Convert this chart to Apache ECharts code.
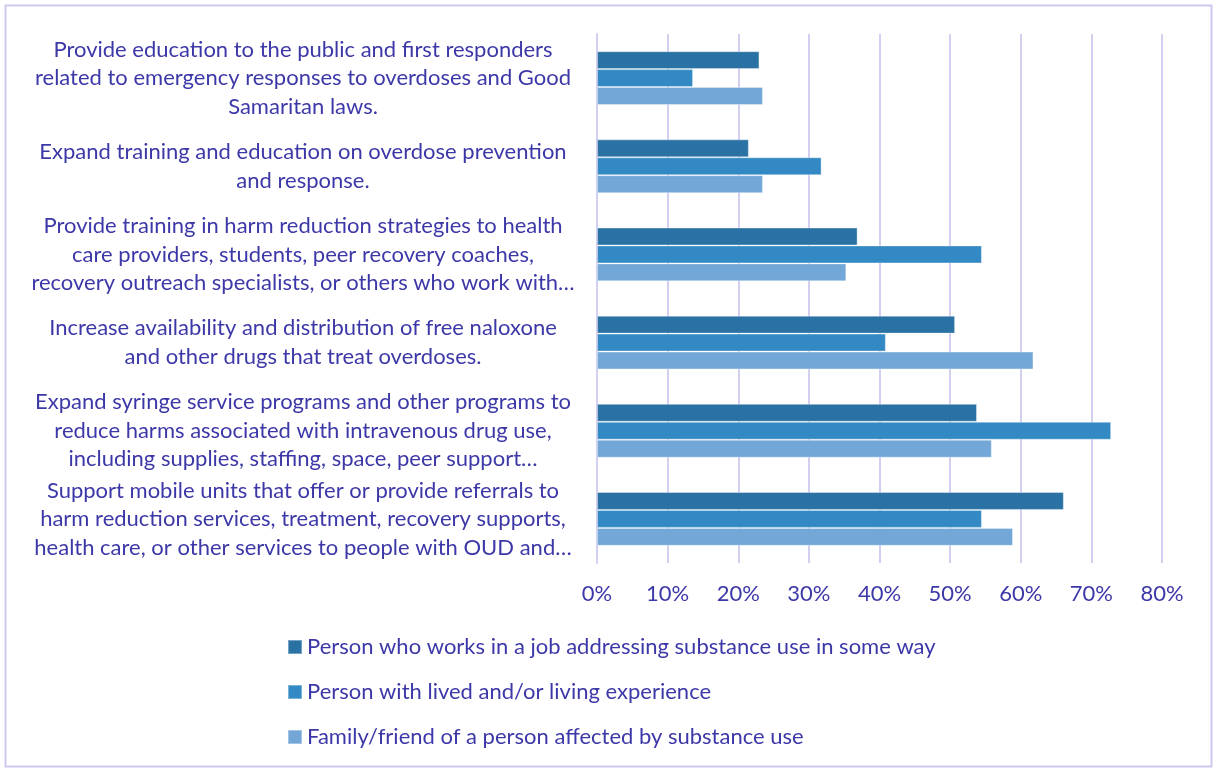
<!DOCTYPE html>
<html>
<head>
<meta charset="utf-8">
<script src="https://cdn.jsdelivr.net/npm/echarts@6/dist/echarts.min.js"></script>
<style>
  html, body { margin: 0; padding: 0; background: #ffffff; }
  #chart { width: 1216px; height: 772px; }
</style>
</head>
<body>
<div id="chart"></div>
<script>
// Strategies, listed top to bottom
const categories = [
  'Provide education to the public and first responders\nrelated to emergency responses to overdoses and Good\nSamaritan laws.',
  'Expand training and education on overdose prevention\nand response.',
  'Provide training in harm reduction strategies to health\ncare providers, students, peer recovery coaches,\nrecovery outreach specialists, or others who work with\u2026',
  'Increase availability and distribution of free naloxone\nand other drugs that treat overdoses.',
  'Expand syringe service programs and other programs to\nreduce harms associated with intravenous drug use,\nincluding supplies, staffing, space, peer support\u2026',
  'Support mobile units that offer or provide referrals to\nharm reduction services, treatment, recovery supports,\nhealth care, or other services to people with OUD and\u2026'
];

const seriesNames = [
  'Person who works in a job addressing substance use in some way',
  'Person with lived and/or living experience',
  'Family/friend of a person affected by substance use'
];

// Share of respondents (%) per strategy
const workerValues  = [23.0, 21.5, 36.9, 50.7, 53.8, 66.1];
const livedValues   = [13.6, 31.8, 54.5, 40.9, 72.8, 54.5];
const familyValues  = [23.5, 23.5, 35.3, 61.8, 55.9, 58.9];

const xTicks = [0, 10, 20, 30, 40, 50, 60, 70, 80];

const colors = ['#2a72a4', '#3389c4', '#72a7d7'];
const textColor = '#3d38a8';
const gridColor = '#d3cff0';
const fontFamily = 'Lato, "Open Sans", sans-serif';
const fontSize = 22;

const chart = echarts.init(document.getElementById('chart'), null, { renderer: 'canvas' });

const valueSets = [workerValues, livedValues, familyValues];

chart.setOption({
  backgroundColor: '#ffffff',
  animation: false,
  color: colors,
  textStyle: { fontFamily: fontFamily, color: textColor },
  graphic: [{
    type: 'rect',
    shape: { x: 5.5, y: 5.5, width: 1206, height: 761 },
    style: { fill: 'none', stroke: '#cdc9ee', lineWidth: 2 },
    silent: true
  }],
  grid: { left: 597, right: 54, top: 34, bottom: 209, containLabel: false },
  legend: {
    orient: 'vertical',
    left: 287,
    top: 636,
    padding: 0,
    itemWidth: 14,
    itemHeight: 14,
    itemGap: 23,
    icon: 'rect',
    data: seriesNames,
    textStyle: { fontFamily: fontFamily, fontSize: fontSize, color: textColor, lineHeight: 22 }
  },
  xAxis: {
    type: 'value',
    min: xTicks[0],
    max: xTicks[xTicks.length - 1],
    interval: 10,
    axisLine: { show: false },
    axisTick: { show: false },
    splitLine: { show: true, lineStyle: { color: gridColor, width: 2 } },
    axisLabel: {
      margin: 20,
      fontSize: fontSize,
      fontFamily: fontFamily,
      color: textColor,
      formatter: v => v + '%'
    }
  },
  yAxis: {
    type: 'category',
    inverse: true,
    data: categories,
    axisLine: { show: true, lineStyle: { color: gridColor, width: 2 } },
    axisTick: { show: false },
    axisLabel: {
      align: 'center',
      margin: 294,
      fontSize: fontSize,
      lineHeight: 28.5,
      fontFamily: fontFamily,
      color: textColor
    }
  },
  series: seriesNames.map((name, i) => ({
    name: name,
    type: 'bar',
    data: valueSets[i],
    barGap: '0%',
    barCategoryGap: '39%',
    itemStyle: { color: colors[i], borderColor: 'rgba(255,255,255,0.35)', borderWidth: 1 }
  }))
});
</script>
</body>
</html>
